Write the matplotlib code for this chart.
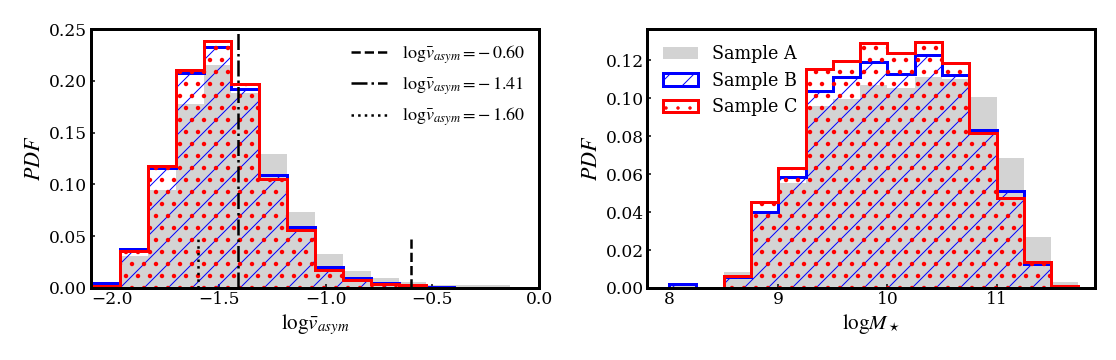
import matplotlib
matplotlib.use("Agg")
import matplotlib.pyplot as plt
import numpy as np

# left panel: log v_asym histograms
vasym_edges = [-2.094 + 0.1305 * k for k in range(16)]
vasym_a = [0.003, 0.031, 0.0946, 0.178, 0.215, 0.188, 0.129, 0.073, 0.0328, 0.0167, 0.0093, 0.0055, 0.0025, 0.0025, 0.0025]
vasym_b = [0.0048, 0.0376, 0.1155, 0.2078, 0.2323, 0.1918, 0.1094, 0.0586, 0.020, 0.0093, 0.0051, 0.002, 0.0013, 0.0, 0.0]
vasym_c = [0.002, 0.036, 0.1178, 0.211, 0.2387, 0.1969, 0.105, 0.056, 0.0174, 0.0077, 0.0039, 0.003, 0.0, 0.0, 0.0]

ref_values = [-0.60, -1.41, -1.60]
ref_heights = [0.05, 0.25, 0.05]
ref_styles = ["--", "-.", ":"]

# right panel: log M_star histograms
mass_edges = [8.0 + 0.25 * k for k in range(16)]
mass_a = [0.001, 0.0, 0.0082, 0.039, 0.0554, 0.0958, 0.0995, 0.1068, 0.1054, 0.1112, 0.110, 0.1004, 0.0682, 0.027, 0.0033]
mass_b = [0.0019, 0.0, 0.006, 0.0398, 0.0586, 0.1037, 0.1112, 0.1188, 0.1126, 0.1226, 0.1121, 0.0832, 0.0512, 0.0126, 0.0008]
mass_c = [0.0, 0.0, 0.0063, 0.0454, 0.063, 0.1151, 0.1196, 0.1291, 0.124, 0.1296, 0.1186, 0.0817, 0.0475, 0.0135, 0.001]

sample_labels = ["Sample A", "Sample B", "Sample C"]

plt.rcParams["font.family"] = "DejaVu Serif"
plt.rcParams["mathtext.fontset"] = "stix"
plt.rcParams["hatch.linewidth"] = 1.0

fig = plt.figure(figsize=(15.5, 5), dpi=72)
ax1 = fig.add_axes([0.0815, 0.2, 0.4015, 0.719])
ax2 = fig.add_axes([0.58, 0.2, 0.401, 0.719])


def draw_hists(ax, edges, a, b, c):
    centers = [(edges[i] + edges[i + 1]) / 2 for i in range(len(edges) - 1)]
    ax.hist(centers, bins=edges, weights=a, histtype="stepfilled", color="lightgrey",
            label=sample_labels[0])
    ax.hist(centers, bins=edges, weights=b, histtype="step", edgecolor="blue", lw=3,
            hatch="/", label=sample_labels[1])
    with plt.rc_context({"hatch.linewidth": 2.0}):
        ax.hist(centers, bins=edges, weights=c, histtype="step", edgecolor="red", lw=3,
                hatch=".", label=sample_labels[2])


def style_axes(ax):
    for sp in ax.spines.values():
        sp.set_linewidth(3)
    ax.tick_params(direction="in", labelsize=17, width=1.5, length=4)


draw_hists(ax1, vasym_edges, vasym_a, vasym_b, vasym_c)
handles = []
for v, h, ls in zip(ref_values, ref_heights, ref_styles):
    ln = ax1.vlines(v, 0, h, colors="black", linestyles=ls, lw=2.5,
                    label=r"$\mathrm{log}\bar{v}_{asym}=-\,%.2f$" % abs(v))
    handles.append(ln)
ax1.legend(handles=handles, loc="upper right", frameon=False, fontsize=18,
           handlelength=2.0, borderaxespad=0.4)
ax1.set_xlim(-2.1, 0.0)
ax1.set_ylim(0, 0.25)
ax1.set_xticks(np.arange(-2.0, 0.01, 0.5))
ax1.set_yticks(np.arange(0, 0.26, 0.05))
ax1.yaxis.set_major_formatter(matplotlib.ticker.FormatStrFormatter("%.2f"))
ax1.set_xlabel(r"$\mathrm{log}\bar{v}_{asym}$", fontsize=21)
ax1.set_ylabel(r"$PDF$", fontsize=22)
style_axes(ax1)

draw_hists(ax2, mass_edges, mass_a, mass_b, mass_c)
ax2.legend(loc="upper left", frameon=False, fontsize=17.5)
ax2.set_xlim(7.8, 11.9)
ax2.set_ylim(0, 0.1363)
ax2.set_xticks([8, 9, 10, 11])
ax2.set_yticks(np.arange(0, 0.121, 0.02))
ax2.yaxis.set_major_formatter(matplotlib.ticker.FormatStrFormatter("%.2f"))
ax2.set_xlabel(r"$\mathrm{log}M_\star$", fontsize=21)
ax2.set_ylabel(r"$PDF$", fontsize=22)
style_axes(ax2)

fig.savefig("out.png", dpi=72)
